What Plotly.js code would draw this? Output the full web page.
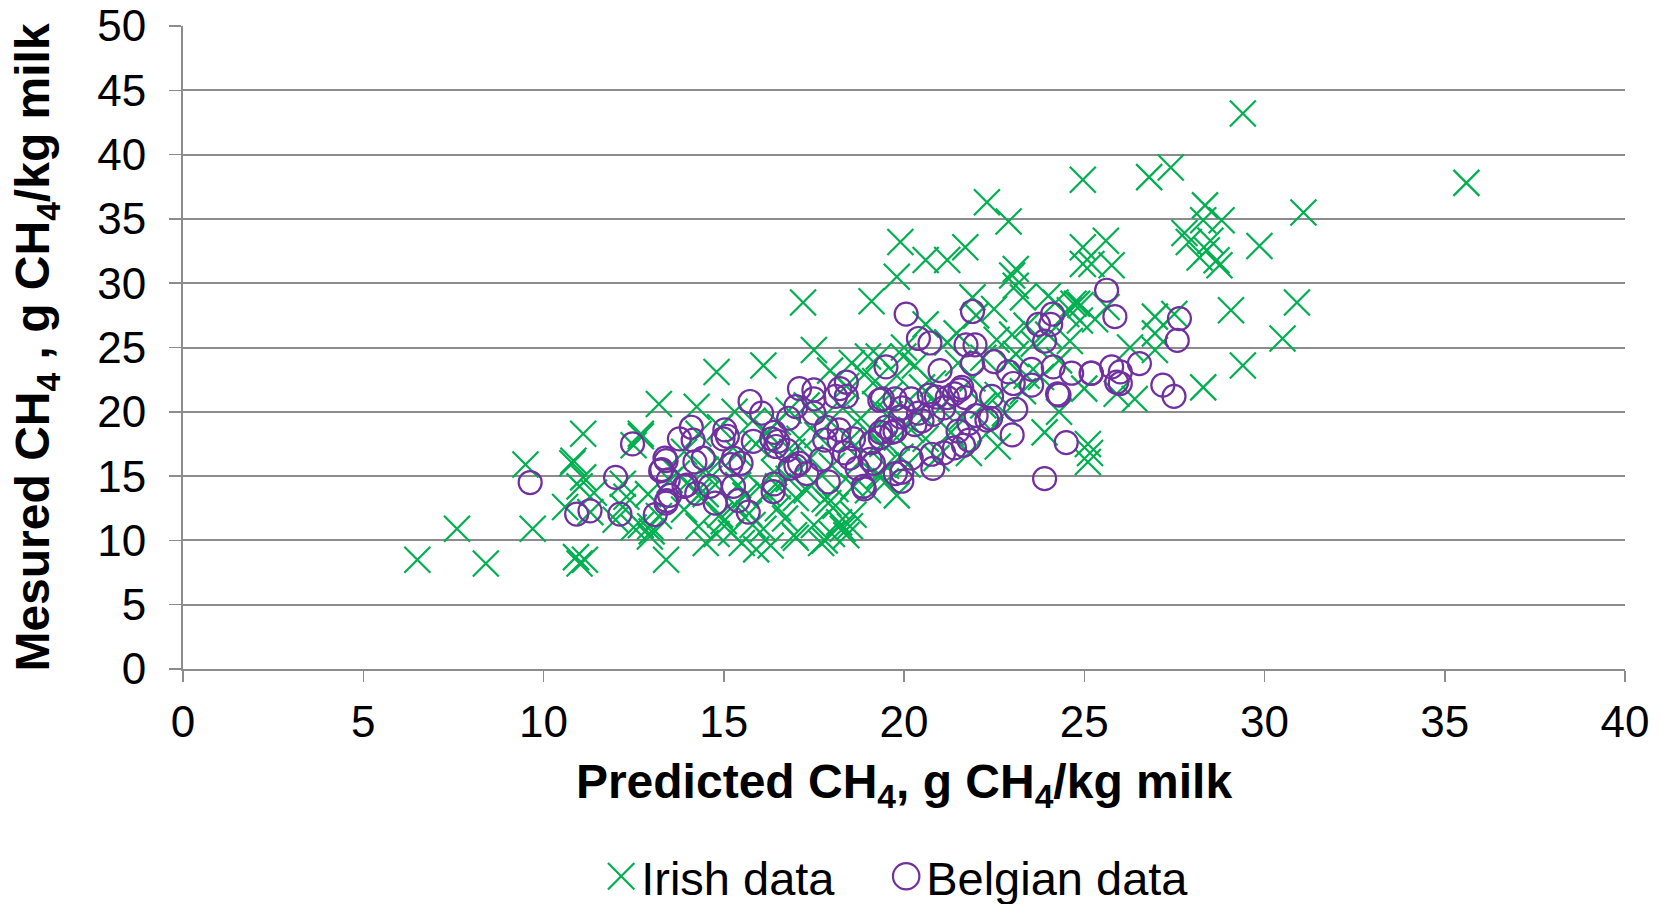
<!DOCTYPE html>
<html>
<head>
<meta charset="utf-8">
<script src="https://cdn.plot.ly/plotly-3.0.1.min.js"></script>
<style>html,body{margin:0;padding:0;background:#fff;}#chart{width:1660px;height:904px;}</style>
</head>
<body>
<div id="chart"></div>
<script>
// Irish data (predicted, measured)
const irishX = [6.5,7.6,8.4,9.5,9.7,10.8,11.1,10.9,11.15,11.0,10.6,11.0,11.1,11.4,12.5,12.7,13.2,12.2,12.5,12.95,13.4,13.5,12.7,13.0,12.9,11.3,
 14.8,14.25,12.7,10.83,12.2,12.3,12.0,12.96,13.2,13.9,14.3,14.5,14.8,14.5,14.9,
 15.0,15.2,15.5,15.9,16.3,16.1,15.8,16.7,16.95,17.5,17.7,17.9,18.2,18.4,18.6,18.3,18.5,15.3,15.4,15.6,16.0,16.2,16.5,16.4,16.8,17.0,17.3,17.5,17.8,18.1,18.6,19.0,19.3,19.5,18.8,18.0,17.4,16.9,16.4,15.9,15.4,14.9,14.5,14.0,14.3,14.6,13.7,13.9,14.3,14.9,15.3,15.8,16.5,16.8,17.3,17.8,18.3,18.8,19.2,19.6,17.95,18.55,19.0,18.4,19.2,19.8,17.5,17.2,16.1,17.0,17.8,18.0,18.1,16.5,15.7,19.4,19.8,20.2,18.5,17.6,17.1,16.2,19.0,19.9,
 19.1,19.8,19.9,20.6,21.2,21.7,22.3,22.9,23.0,23.1,23.3,21.9,21.46,22.57,23.1,23.6,24.5,24.8,25.2,25.3,19.98,19.3,18.9,22.6,23.9,25.16,25.0,21.2,21.9,22.6,20.3,20.8,21.5,22.2,22.9,23.4,20.5,21.0,21.6,22.2,22.8,23.3,23.8,24.3,24.0,23.4,22.0,20.6,20.0,21.3,20.6,20.1,20.9,21.8,22.4,19.6,20.4,19.8,19.5,24.0,23.1,22.5,24.9,24.6,24.3,
 24.96,26.8,27.4,28.35,28.81,27.78,28.3,28.4,28.67,28.2,28.75,29.86,31.08,24.96,25.6,24.96,25.76,24.7,24.88,25.62,26.96,27.5,26.96,26.27,26.96,29.07,30.9,30.5,29.4,28.3,26.4,25.9,25.1,25.1,29.4,35.6,27.9,28.5,24.2,24.6,23.0];
const irishY = [8.5,10.9,8.2,15.9,10.9,16.0,18.3,8.7,8.5,8.2,12.6,14.2,14.9,13.7,17.4,18.1,20.6,12.6,11.0,10.3,8.5,14.7,11.2,10.7,13.6,12.2,
 23.1,20.4,18.3,16.2,14.4,13.4,11.6,11.1,11.9,12.4,11.1,9.8,10.5,13.6,12.0,
 11.5,10.6,9.8,9.3,9.6,10.9,11.2,11.7,10.4,11.2,9.8,12.9,11.4,10.4,12.0,10.9,11.1,12.8,14.3,13.5,14.2,13.7,14.2,15.3,14.8,13.3,13.9,14.5,13.2,14.0,14.2,13.9,15.0,15.8,16.2,15.8,16.4,16.9,17.2,17.5,16.8,16.2,15.5,14.5,13.5,14.8,15.2,16.9,18.3,18.8,20.0,19.3,19.2,20.1,20.5,19.7,20.3,19.5,20.6,21.3,23.2,23.8,24.3,22.0,22.4,22.8,24.8,28.5,23.6,10.2,10.0,10.5,12.7,12.5,12.1,17.5,18.0,18.6,17.8,18.2,17.9,18.4,18.4,16.5,
 28.6,30.5,33.2,31.8,31.8,32.8,36.3,34.8,30.6,31.1,28.9,28.9,26.1,25.6,24.5,25.3,27.6,28.4,31.5,27.2,24.3,24.3,22.9,17.3,18.4,16.8,21.8,25.4,22.6,21.3,23.6,22.2,23.8,24.2,23.9,22.8,21.9,20.3,19.6,20.5,19.9,21.6,22.7,24.0,26.0,26.7,27.5,26.8,25.0,18.4,17.9,15.9,16.4,16.8,18.6,19.8,20.0,13.5,14.6,29.0,29.8,28.0,28.3,25.5,20.0,
 38.05,38.25,39.0,36.05,34.9,33.9,34.9,32.56,31.78,32.0,31.4,32.9,35.5,32.8,33.3,31.5,31.4,28.4,27.1,28.15,27.4,27.6,26.1,25.0,24.8,27.9,28.5,25.7,23.6,21.9,21.0,21.4,17.5,16.1,43.2,37.8,33.2,33.3,28.5,27.9,26.0];

// Belgian data (predicted, measured)
const belgianX = [9.63,10.92,11.29,12.0,12.12,12.47,13.1,13.4,13.25,13.4,13.77,14.1,13.5,13.9,14.2,
 14.15,14.43,13.37,13.28,13.46,13.42,13.97,14.25,14.62,14.76,15.03,15.1,14.98,15.27,15.48,15.2,15.27,15.4,15.68,15.73,16.05,15.82,16.33,16.4,16.5,16.45,16.37,16.4,16.8,16.75,16.84,17.0,17.1,17.5,17.5,17.5,17.0,17.8,17.85,17.1,17.3,17.7,17.9,18.22,18.4,18.1,18.4,18.2,18.2,18.6,18.5,18.35,18.7,18.87,19.06,19.5,19.4,19.75,19.5,19.35,19.75,19.76,
 20.06,20.4,20.72,21.9,21.72,21.97,21.9,22.5,21.0,22.9,23.54,24.14,24.65,25.19,25.76,25.9,25.62,25.85,23.73,24.12,24.07,23.9,23.54,24.3,23.1,22.43,22.3,23.0,24.5,23.9,21.55,21.4,21.2,21.7,21.6,20.9,20.7,20.2,19.33,19.9,20.4,20.8,21.1,20.3,19.66,19.34,19.1,19.15,18.9,19.94,19.94,20.2,20.8,20.77,21.1,21.4,21.65,21.8,21.5,21.8,22.4,22.0,26.0,26.53,27.18,27.49,27.64,27.58,26.0,25.2,23.03,24.26,19.95,20.5];
const belgianY = [14.5,12.05,12.3,14.9,12.05,17.5,12.0,12.9,15.4,16.2,17.9,18.8,13.5,14.2,16.1,
 17.8,16.4,16.4,15.5,14.7,13.1,14.3,13.65,14.2,12.9,18.6,18.1,17.9,16.4,16.0,15.9,14.2,13.1,12.2,20.8,19.9,17.7,17.9,18.4,17.7,17.3,13.8,14.4,19.5,17.0,15.6,15.8,21.8,21.7,19.9,21.0,20.4,17.8,18.8,16.0,15.2,16.3,14.55,21.8,22.3,21.2,21.2,18.6,17.8,17.9,16.4,16.8,15.6,14.2,16.3,23.5,21.0,21.0,18.8,18.4,18.5,15.2,
 27.6,25.7,25.35,27.8,25.2,25.2,23.75,23.9,23.2,23.1,23.3,23.5,23.0,23.0,23.5,22.3,29.45,27.4,26.8,27.6,26.8,25.5,22.07,21.3,20.2,21.2,19.35,18.2,17.6,14.8,21.7,21.4,21.1,21.1,21.9,21.15,21.3,21.0,20.9,19.6,19.9,19.8,20.3,19.0,18.4,18.0,17.6,16.0,14.0,15.3,14.6,16.4,15.6,16.7,16.8,17.2,17.4,17.8,18.5,19.1,19.5,19.7,22.2,23.75,22.07,21.2,27.25,25.55,23.1,23.0,22.2,21.4,20.3,19.3];

const seriesNames = ['Irish data', 'Belgian data'];
const xTicks = [0,5,10,15,20,25,30,35,40];
const yTicks = [0,5,10,15,20,25,30,35,40,45,50];

const FONT = 'Liberation Sans, Arial, sans-serif';
const GRID = '#8c8c8c';

const traces = [
  {x: irishX, y: irishY, name: seriesNames[0], type: 'scatter', mode: 'markers',
   marker: {symbol: 'x-thin-open', size: 26, color: '#00B050', line: {color: '#00B050', width: 2.2}}},
  {x: belgianX, y: belgianY, name: seriesNames[1], type: 'scatter', mode: 'markers',
   marker: {symbol: 'circle-open', size: 23, color: '#7030A0', line: {color: '#7030A0', width: 2.2}}}
];

const layout = {
  width: 1660, height: 904,
  margin: {l: 183, r: 35, t: 26, b: 235, autoexpand: false},
  paper_bgcolor: '#fff', plot_bgcolor: '#fff',
  font: {family: FONT, color: '#000', size: 44},
  showlegend: true,
  legend: {orientation: 'h', x: 0.29, xanchor: 'left', y: -0.323, yanchor: 'middle',
           font: {family: FONT, size: 47, color: '#000'}, itemwidth: 30, tracegroupgap: 0,
           entrywidth: 240, entrywidthmode: 'pixels'},
  xaxis: {range: [0, 40], tickvals: xTicks, ticktext: xTicks.map(String),
          showgrid: false, zeroline: false, showline: true, linecolor: GRID, linewidth: 2,
          ticks: 'outside', ticklen: 11, tickwidth: 1.5, tickcolor: GRID, ticklabelstandoff: 2,
          tickfont: {family: FONT, size: 44, color: '#000'},
          title: {text: '<b>Predicted CH<sub>4</sub>, g CH<sub>4</sub>/kg milk</b>', font: {family: FONT, size: 48, color: '#000'}, standoff: 20}},
  yaxis: {range: [0, 50], tickvals: yTicks, ticktext: yTicks.map(String),
          showgrid: true, gridcolor: GRID, gridwidth: 2, zeroline: false,
          showline: true, linecolor: GRID, linewidth: 2,
          ticks: 'outside', ticklen: 12, tickwidth: 1.5, tickcolor: GRID, ticklabelstandoff: 14,
          tickfont: {family: FONT, size: 44, color: '#000'},
          title: {text: '<b>Mesured CH<sub>4</sub> , g CH<sub>4</sub>/kg milk</b>', font: {family: FONT, size: 48, color: '#000'}, standoff: 32}}
};

Plotly.newPlot('chart', traces, layout, {displayModeBar: false, staticPlot: true}).then(function (gd) {
  // enlarge legend symbols to match the reference key size, and let the last label show in full
  gd.querySelectorAll('.legend .legendpoints path.scatterpts').forEach(function (p) {
    const t = p.getAttribute('transform') || '';
    p.setAttribute('transform', t + ' scale(1.65)');
    p.setAttribute('vector-effect', 'non-scaling-stroke');
  });
  gd.querySelectorAll('.legend [clip-path], .legend').forEach(function (el) {
    el.removeAttribute('clip-path');
  });
});
</script>
</body>
</html>
